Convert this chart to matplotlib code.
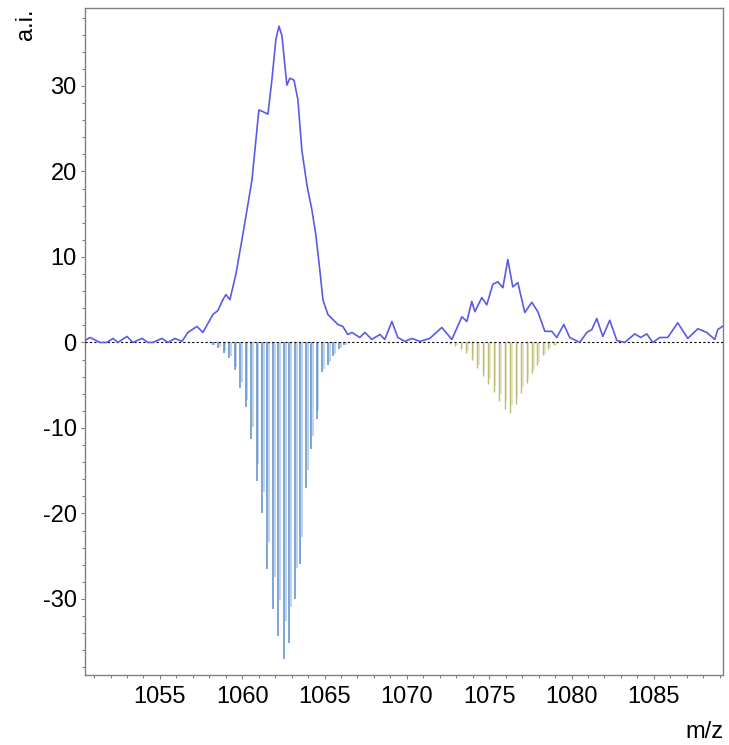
import numpy as np
import matplotlib
matplotlib.use('Agg')
import matplotlib.pyplot as plt
from matplotlib.ticker import MultipleLocator

plt.rcParams['font.family'] = ['Liberation Sans', 'DejaVu Sans']
plt.rcParams['axes.unicode_minus'] = False

# measured profile spectrum (m/z, intensity)
mz_prof = [1050.45, 1050.75, 1051.36, 1051.78, 1052.15, 1052.45, 1053.00, 1053.36,
           1053.91, 1054.27, 1054.57, 1055.12, 1055.49, 1055.91, 1056.34, 1056.70,
           1057.25, 1057.61, 1058.22, 1058.52, 1058.83, 1059.01, 1059.25, 1059.61,
           1059.98, 1060.34, 1060.59, 1060.83, 1061.01, 1061.31, 1061.56, 1061.80,
           1062.04, 1062.23, 1062.41, 1062.59, 1062.71, 1062.89, 1063.14, 1063.38,
           1063.62, 1063.93, 1064.23, 1064.47, 1064.71, 1064.90, 1065.20, 1065.50,
           1065.81, 1066.11, 1066.41, 1066.66, 1067.14, 1067.45, 1067.87, 1068.36,
           1068.66, 1069.09, 1069.45, 1069.88, 1070.30, 1070.79, 1071.39, 1072.12,
           1072.73, 1073.34, 1073.64, 1073.94, 1074.13, 1074.55, 1074.85, 1075.22,
           1075.52, 1075.83, 1076.13, 1076.43, 1076.74, 1077.16, 1077.59, 1077.95,
           1078.38, 1078.80, 1079.10, 1079.53, 1079.89, 1080.50, 1080.93, 1081.23,
           1081.53, 1081.90, 1082.32, 1082.75, 1083.23, 1083.84, 1084.20, 1084.57,
           1084.93, 1085.36, 1085.84, 1086.45, 1087.06, 1087.67, 1088.21, 1088.70,
           1088.88, 1089.18]
int_prof = [0.23, 0.58, 0.00, 0.00, 0.47, 0.00, 0.70, 0.00,
            0.47, 0.00, 0.00, 0.47, 0.00, 0.47, 0.12, 1.17,
            1.87, 1.17, 3.27, 3.73, 5.02, 5.60, 5.00, 7.93,
            12.0, 16.1, 19.0, 23.7, 27.2, 26.95, 26.7, 30.7,
            35.4, 37.0, 35.9, 32.4, 30.1, 30.9, 30.7, 28.4,
            22.5, 18.4, 15.5, 12.6, 8.5, 5.0, 3.27, 2.7,
            2.1, 1.87, 0.93, 1.17, 0.58, 1.17, 0.35, 0.93,
            0.35, 2.45, 0.58, 0.12, 0.47, 0.12, 0.47, 1.75,
            0.35, 3.0, 2.45, 4.8, 3.6, 5.25, 4.4, 6.8,
            7.1, 6.4, 9.7, 6.5, 7.0, 3.5, 4.7, 3.6,
            1.3, 1.3, 0.58, 2.1, 0.58, 0.00, 1.17, 1.5,
            2.8, 0.70, 2.6, 0.23, 0.00, 1.0, 0.58, 1.0,
            0.00, 0.58, 0.58, 2.3, 0.47, 1.6, 1.17, 0.35,
            1.5, 1.9]

# simulated isotope pattern 1 (blue)
mz_sim1 = [1058.20, 1058.53, 1058.87, 1059.20, 1059.53, 1059.87, 1060.20, 1060.53,
           1060.87, 1061.20, 1061.53, 1061.87, 1062.20, 1062.53, 1062.87, 1063.20,
           1063.53, 1063.87, 1064.20, 1064.53, 1064.87, 1065.20, 1065.53, 1065.87,
           1066.20]
int_sim1 = [-0.3, -0.6, -1.2, -1.8, -3.2, -5.3, -7.6, -11.3,
            -16.2, -19.9, -26.5, -31.2, -34.3, -37.0, -35.2, -30.0,
            -25.9, -17.0, -12.5, -9.0, -3.5, -2.6, -1.6, -0.8,
            -0.3]

# simulated isotope pattern 2 (olive)
mz_sim2 = [1072.60, 1072.93, 1073.27, 1073.60, 1073.93, 1074.27, 1074.60, 1074.93,
           1075.27, 1075.60, 1075.93, 1076.27, 1076.60, 1076.93, 1077.27, 1077.60,
           1077.93, 1078.27, 1078.60, 1078.93]
int_sim2 = [-0.2, -0.4, -0.8, -1.2, -2.0, -3.0, -3.9, -4.9,
            -5.8, -6.8, -7.8, -8.3, -7.2, -5.9, -4.7, -3.6,
            -2.6, -1.5, -0.8, -0.3]

fig = plt.figure(figsize=(7.29, 7.45), dpi=100)
ax = fig.add_axes([0.1166, 0.094, 0.8752, 0.895])

m1 = np.array(mz_sim1)
h1 = np.array(int_sim1)
m2 = np.array(mz_sim2)
h2 = np.array(int_sim2)

# sticks: light partner line + dark line
ax.vlines(m1 + 0.1, 0, h1 * 0.88, color='#b3cdec', lw=1.2, zorder=2)
ax.vlines(m1, 0, h1, color='#5b8dcc', lw=1.1, zorder=3)
ax.vlines(m2 + 0.1, 0, h2 * 0.88, color='#e0e0b4', lw=1.1, zorder=2)
ax.vlines(m2, 0, h2, color='#bcbc74', lw=1.0, zorder=3)

ax.axhline(0, color='black', lw=0.8, ls=(0, (2, 2)), zorder=4)
ax.plot(mz_prof, int_prof, color='#5a5ae6', lw=1.2, zorder=5,
        solid_joinstyle='round')

ax.set_xlim(1050.45, 1089.2)
ax.set_ylim(-38.9, 39.1)
ax.xaxis.set_major_locator(MultipleLocator(5))
ax.xaxis.set_minor_locator(MultipleLocator(1))
ax.yaxis.set_major_locator(MultipleLocator(10))
ax.yaxis.set_minor_locator(MultipleLocator(2))

for s in ax.spines.values():
    s.set_color('#808080')
    s.set_linewidth(1.0)
ax.tick_params(which='major', direction='out', length=3, width=0.8, color='#808080',
               labelsize=17, pad=3)
ax.tick_params(which='minor', direction='out', length=2, width=0.8, color='#808080')
ax.tick_params(axis='x', which='major', pad=5)

fig.text(0.035, 0.988, 'a.i.', rotation=90, ha='center', va='top', fontsize=17)
fig.text(723 / 729, 1 - 738 / 745, 'm/z', ha='right', va='baseline', fontsize=17)

fig.savefig('out.png', dpi=100)
